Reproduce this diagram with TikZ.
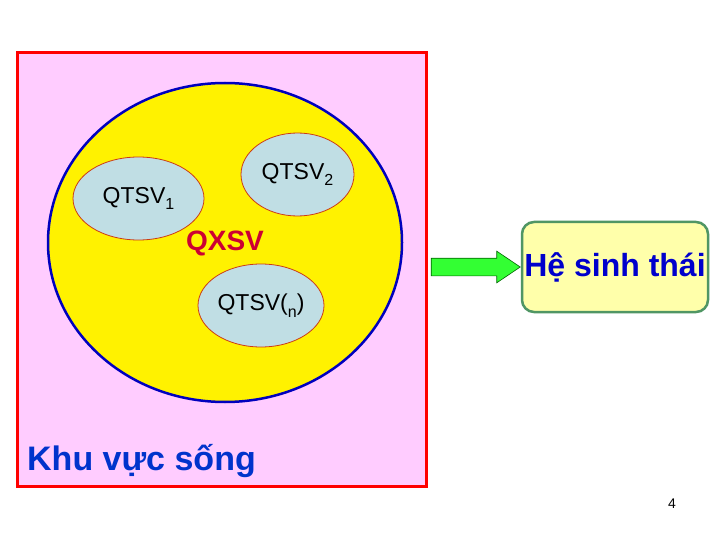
\documentclass[tikz,border=0pt]{standalone}
\usepackage{fontspec}
\setmainfont{Liberation Sans}
\usetikzlibrary{shapes.geometric,shapes.arrows,positioning}
\definecolor{lilac}{RGB}{255,204,255}
\definecolor{rimblue}{RGB}{0,0,190}
\definecolor{ovalfill}{RGB}{192,222,228}
\definecolor{ovalrim}{RGB}{204,60,20}
\definecolor{qxsvred}{RGB}{204,0,51}
\definecolor{kvsblue}{RGB}{0,51,204}
\definecolor{hstblue}{RGB}{0,0,204}
\definecolor{boxfill}{RGB}{255,255,170}
\definecolor{boxrim}{RGB}{80,150,100}
\definecolor{arrowgreen}{RGB}{51,255,51}
\definecolor{arrowrim}{RGB}{0,100,0}
\newcommand{\lowsub}[1]{\raisebox{-6.5pt}{\fontsize{16}{18}\selectfont #1}}
\tikzset{
	qtsv/.style={ellipse,draw=ovalrim,line width=0.8pt,fill=ovalfill,inner sep=0pt,font=\fontsize{23}{27}\selectfont},
}
\begin{document}
\begin{tikzpicture}[x=1pt,y=-1pt]
		\useasboundingbox (0,0) rectangle (720,540);
		\node[draw=red,line width=3pt,fill=lilac,minimum width=409pt,minimum height=433pt,inner sep=0pt] (kvs) at (221.5,269.5) {};
		\node[ellipse,draw=rimblue,line width=2.5pt,fill=yellow,minimum width=354pt,minimum height=319pt,inner sep=0pt] (qxsv) at (225,242.5) {};
		\node[qtsv,minimum width=131pt,minimum height=83pt] (q1) at (138.5,198.5) {QTSV\lowsub{1}};
		\node[qtsv,minimum width=113pt,minimum height=83pt] (q2) at (297.5,174.5) {QTSV\lowsub{2}};
		\node[qtsv,minimum width=126pt,minimum height=83pt] (qn) at (261,305.5) {QTSV(\lowsub{n})};
		\node[text=qxsvred,font=\bfseries\fontsize{28}{33}\selectfont] (qxsvlabel) at (225,243) {QXSV};
		\node[anchor=base west,inner sep=0pt,text=kvsblue,font=\bfseries\fontsize{34}{40}\selectfont] (kvslabel) at (27,470) {Khu vực sống};
		\node[draw=boxrim,line width=2.5pt,fill=boxfill,rounded corners=12pt,minimum width=186pt,minimum height=90pt,inner sep=0pt,text=hstblue,font=\bfseries\fontsize{32}{38}\selectfont] (hst) at (615,267) {Hệ sinh thái};
		\node[single arrow,draw=arrowrim,fill=arrowgreen,line width=0.6pt,minimum height=89pt,inner xsep=0pt,inner ysep=8.5pt,single arrow head extend=7pt,single arrow tip angle=68,anchor=tip] (arr) at (hst.west) {};
		\node[font=\fontsize{14}{16}\selectfont] (page) at (672,504) {4};
	\end{tikzpicture}
\end{document}
